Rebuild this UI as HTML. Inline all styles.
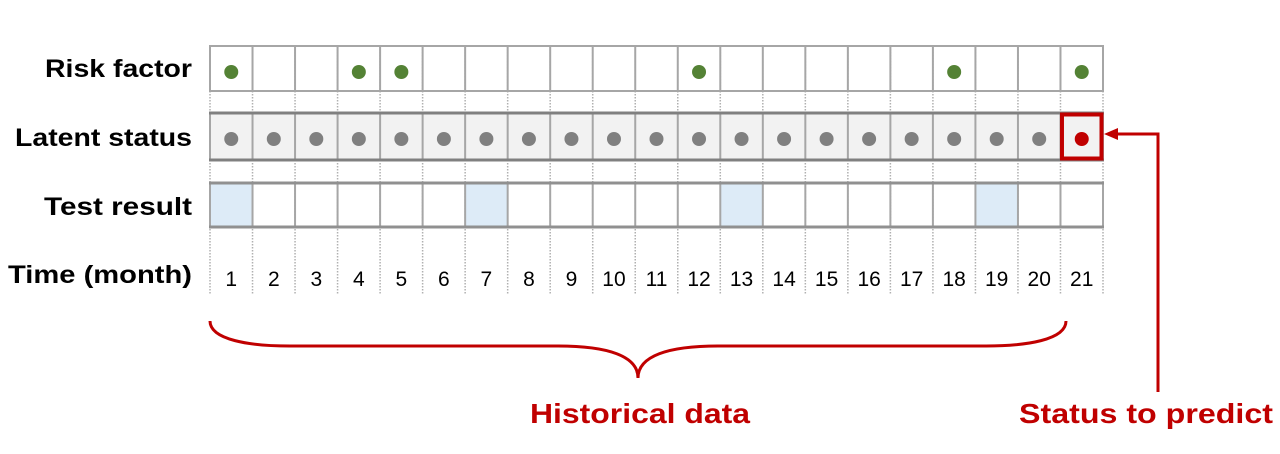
<!DOCTYPE html>
<html><head><meta charset="utf-8"><style>
html,body{margin:0;padding:0;background:#fff;width:1280px;height:454px;overflow:hidden}
svg{display:block;font-family:"Liberation Sans",Arial,sans-serif}
</style></head><body>
<svg id="chart" width="1280" height="454" viewBox="0 0 1280 454" xmlns="http://www.w3.org/2000/svg"></svg>
<script>
const months = [1,2,3,4,5,6,7,8,9,10,11,12,13,14,15,16,17,18,19,20,21];
const riskFactor = [1,0,0,1,1,0,0,0,0,0,0,1,0,0,0,0,0,1,0,0,1];
const testResult = [1,0,0,0,0,0,1,0,0,0,0,0,1,0,0,0,0,0,1,0,0];
const predictMonth = 21;
const rowLabels = ["Risk factor","Latent status","Test result","Time (month)"];

const NS = "http://www.w3.org/2000/svg";
const svg = document.getElementById('chart');
const x0 = 210, x1 = 1103;
const cw = (x1 - x0) / months.length;
const xAt = i => x0 + i * cw;
const cx = i => x0 + (i + 0.5) * cw;
function mk(tag, attrs, parent) {
  const e = document.createElementNS(NS, tag);
  for (const k in attrs) e.setAttribute(k, attrs[k]);
  (parent || svg).appendChild(e);
  return e;
}
const rows = {risk:[46,91], latent:[113,160], test:[183,227], time:[227,295]};

// dotted separators full height
for (let i = 0; i <= months.length; i++) {
  const l = mk('line', {x1:xAt(i), x2:xAt(i), y1:46, y2:295, stroke:'#b0b0b0', 'stroke-width':1.5, 'stroke-dasharray':'1.5,1.5'});
  
  
}
// latent background
const lb = mk('rect', {x:x0, y:113, width:x1-x0, height:47, fill:'#f2f2f2'});


// test fills
testResult.forEach((v, i) => {
  if (!v) return;
  const r = mk('rect', {x:xAt(i), y:183, width:cw, height:44, fill:'#ddebf7'});
  
  
});
// solid grid for three rows
[['risk','#a6a6a6'],['latent','#808080'],['test','#909090']].forEach(([k,col]) => {
  const [ya, yb] = rows[k];
  for (let i = 0; i <= months.length; i++) {
    const l = mk('line', {x1:xAt(i), x2:xAt(i), y1:ya, y2:yb, stroke:'#a6a6a6', 'stroke-width':2});
    
    
  }
  [ya, yb].forEach(y => {
    const l = mk('line', {x1:x0-1, x2:x1+1, y1:y, y2:y, stroke:col, 'stroke-width':k==='risk'?2:3});
    
    
  });
});
// risk dots
riskFactor.forEach((v, i) => {
  if (!v) return;
  const c = mk('circle', {cx:cx(i), cy:72, r:7, fill:'#548235'});
  
  
});
// latent dots
months.forEach((m, i) => {
  const isP = m === predictMonth;
  const c = mk('circle', {cx:cx(i), cy:139, r:7, fill:isP ? '#c00000' : '#808080'});
  
  
});
// month labels
months.forEach((m, i) => {
  const t = mk('text', {x:cx(i), y:286, 'text-anchor':'middle', 'font-size':21, fill:'#000'});
  t.textContent = m;
  
  
});
// row labels
const lblY = [77,146,215,283], lblW = [147,177,148,184];
rowLabels.forEach((s, i) => {
  const t = mk('text', {x:192, y:lblY[i], 'text-anchor':'end', 'font-size':25, 'font-weight':'bold', textLength:lblW[i], lengthAdjust:'spacingAndGlyphs'});
  t.textContent = s;
  
  
});
// red box around prediction
const pi = months.indexOf(predictMonth);
const rb = mk('rect', {x:xAt(pi)+1.5, y:114.5, width:cw-3, height:44, fill:'none', stroke:'#c00000', 'stroke-width':4});


// arrow
const ar = mk('path', {d:'M1158 392 V134 H1116', fill:'none', stroke:'#c00000', 'stroke-width':3});


const ah = mk('path', {d:'M1104 134 L1118 128 L1118 140 Z', fill:'#c00000'});


// brace
const bx0 = 210, bx1 = 1066, bm = (bx0 + bx1) / 2;
const br = mk('path', {d:`M${bx0} 321 C${bx0} 340 ${bx0+40} 346 ${bx0+80} 346 L${bm-80} 346 C${bm-30} 346 ${bm} 356 ${bm} 378 C${bm} 356 ${bm+30} 346 ${bm+80} 346 L${bx1-80} 346 C${bx1-40} 346 ${bx1} 340 ${bx1} 321`, fill:'none', stroke:'#c00000', 'stroke-width':3});


const h = mk('text', {x:640, y:423, 'text-anchor':'middle', 'font-size':28, 'font-weight':'bold', fill:'#c00000', textLength:220, lengthAdjust:'spacingAndGlyphs'});
h.textContent = 'Historical data';


const p = mk('text', {x:1146, y:423, 'text-anchor':'middle', 'font-size':28, 'font-weight':'bold', fill:'#c00000', textLength:254, lengthAdjust:'spacingAndGlyphs'});
p.textContent = 'Status to predict';


</script>
</body></html>
